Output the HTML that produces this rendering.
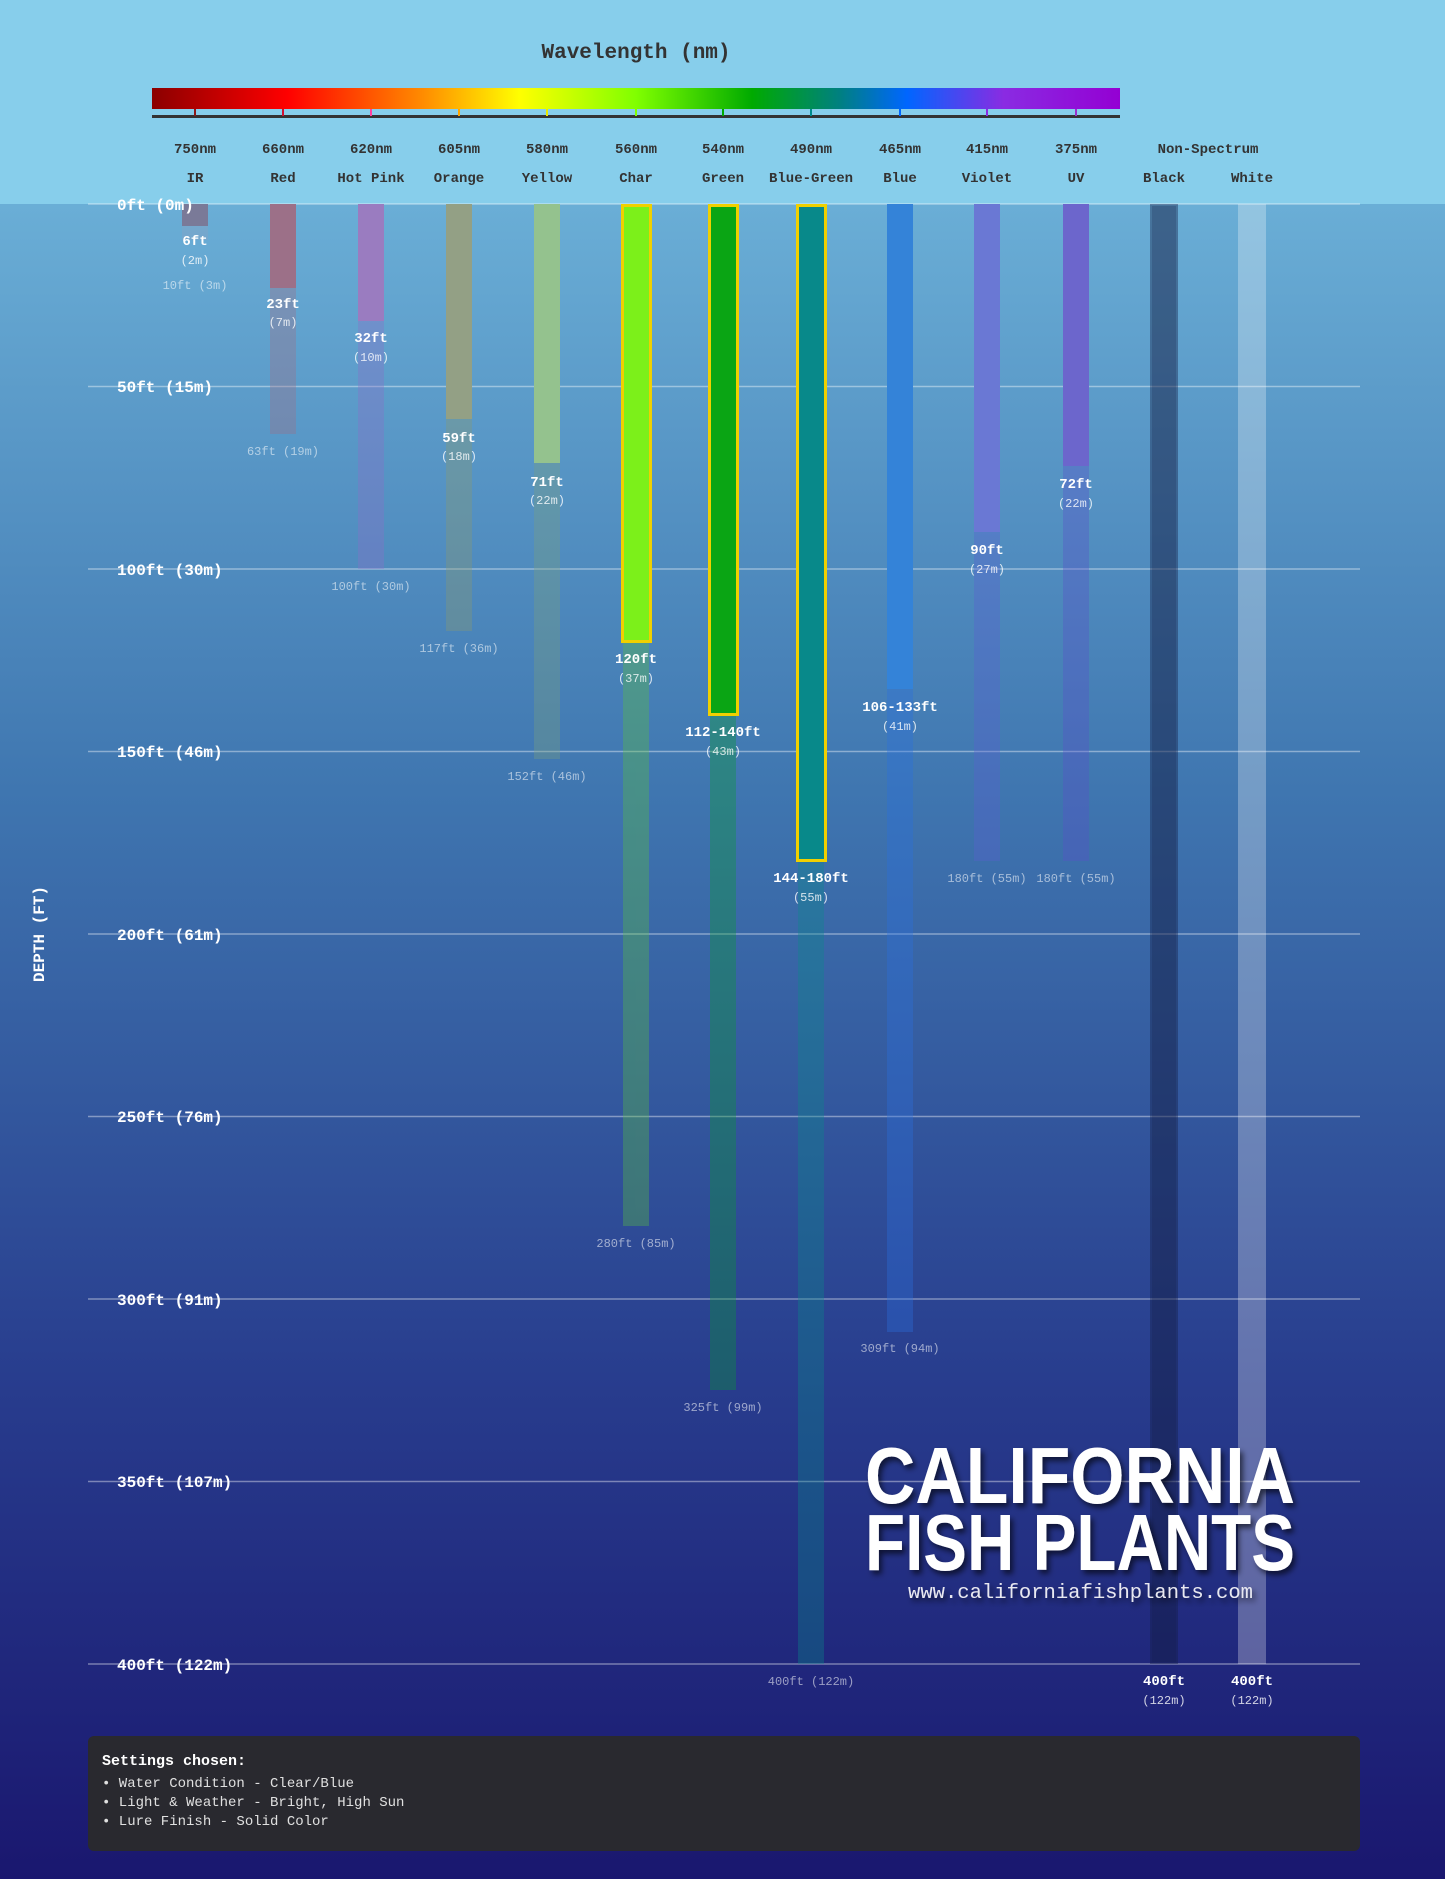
<!DOCTYPE html>
<html><head><meta charset="utf-8"><style>
html,body{margin:0;padding:0;}
body{width:1445px;height:1879px;overflow:hidden;}
svg{display:block;}
text{font-family:"Liberation Mono","DejaVu Sans Mono",monospace;}
</style></head><body>
<svg width="1445" height="1879" viewBox="0 0 1445 1879" xmlns="http://www.w3.org/2000/svg">
<defs>
<linearGradient id="water" x1="0" y1="0" x2="0" y2="1">
<stop offset="0" stop-color="#6aaed6"/>
<stop offset="0.35" stop-color="#3f76b0"/>
<stop offset="0.7" stop-color="#283d8e"/>
<stop offset="1" stop-color="#1a176f"/>
</linearGradient>
<linearGradient id="spec" x1="0" y1="0" x2="1" y2="0">
<stop offset="0" stop-color="#8b0000"/>
<stop offset="0.14" stop-color="#ff0000"/>
<stop offset="0.28" stop-color="#ff8c00"/>
<stop offset="0.38" stop-color="#ffff00"/>
<stop offset="0.5" stop-color="#80ff00"/>
<stop offset="0.62" stop-color="#00aa00"/>
<stop offset="0.71" stop-color="#008080"/>
<stop offset="0.78" stop-color="#0066ff"/>
<stop offset="0.88" stop-color="#8a2be2"/>
<stop offset="1" stop-color="#9400d3"/>
</linearGradient>
<filter id="sh" x="-10%" y="-20%" width="120%" height="150%"><feDropShadow dx="3" dy="4" stdDeviation="3" flood-color="#000" flood-opacity="0.6"/></filter>
</defs>
<rect x="0" y="0" width="1445" height="1879" fill="#87ceeb"/>
<rect x="0" y="204" width="1445" height="1675" fill="url(#water)"/>

<text x="636" y="58" text-anchor="middle" font-size="21" font-weight="bold" fill="#333">Wavelength (nm)</text>
<rect x="152" y="88" width="968" height="21" fill="url(#spec)"/>
<rect x="152" y="115" width="968" height="3" fill="#333"/>
<g stroke-width="2">
<line x1="195" y1="109" x2="195" y2="116" stroke="#8b1a1a"/>
<line x1="283" y1="109" x2="283" y2="116" stroke="#d01030"/>
<line x1="371" y1="109" x2="371" y2="116" stroke="#ff40a0"/>
<line x1="459" y1="109" x2="459" y2="116" stroke="#ffa500"/>
<line x1="547" y1="109" x2="547" y2="116" stroke="#e8e800"/>
<line x1="636" y1="109" x2="636" y2="116" stroke="#80ff00"/>
<line x1="723" y1="109" x2="723" y2="116" stroke="#00aa00"/>
<line x1="811" y1="109" x2="811" y2="116" stroke="#008b8b"/>
<line x1="900" y1="109" x2="900" y2="116" stroke="#0066ff"/>
<line x1="987" y1="109" x2="987" y2="116" stroke="#8a2be2"/>
<line x1="1076" y1="109" x2="1076" y2="116" stroke="#9932cc"/>
</g>
<g font-size="14" font-weight="bold" fill="#333" text-anchor="middle">
<text x="195" y="153">750nm</text><text x="283" y="153">660nm</text><text x="371" y="153">620nm</text><text x="459" y="153">605nm</text><text x="547" y="153">580nm</text><text x="636" y="153">560nm</text><text x="723" y="153">540nm</text><text x="811" y="153">490nm</text><text x="900" y="153">465nm</text><text x="987" y="153">415nm</text><text x="1076" y="153">375nm</text><text x="1208" y="153">Non-Spectrum</text>
<text x="195" y="182">IR</text><text x="283" y="182">Red</text><text x="371" y="182">Hot Pink</text><text x="459" y="182">Orange</text><text x="547" y="182">Yellow</text><text x="636" y="182">Char</text><text x="723" y="182">Green</text><text x="811" y="182">Blue-Green</text><text x="900" y="182">Blue</text><text x="987" y="182">Violet</text><text x="1076" y="182">UV</text><text x="1164" y="182">Black</text><text x="1252" y="182">White</text>
</g>

<g stroke="rgba(255,255,255,0.4)" stroke-width="1.5">
<line x1="88" y1="204" x2="1360" y2="204"/><line x1="88" y1="386.5" x2="1360" y2="386.5"/><line x1="88" y1="569" x2="1360" y2="569"/><line x1="88" y1="751.5" x2="1360" y2="751.5"/><line x1="88" y1="934" x2="1360" y2="934"/><line x1="88" y1="1116.5" x2="1360" y2="1116.5"/><line x1="88" y1="1299" x2="1360" y2="1299"/><line x1="88" y1="1481.5" x2="1360" y2="1481.5"/><line x1="88" y1="1664" x2="1360" y2="1664"/>
</g>

<g opacity="0.35">
<rect x="182" y="204" width="26" height="36" fill="#8fa0c0"/>
<rect x="270" y="204" width="26" height="230" fill="#9e7088"/>
<rect x="358" y="204" width="26" height="365" fill="#8a70c8"/>
<rect x="446" y="204" width="26" height="427" fill="#8a9a70"/>
<rect x="534" y="204" width="26" height="555" fill="#7aa080"/>
<rect x="623" y="204" width="26" height="1022" fill="#5ac040"/>
<rect x="710" y="204" width="26" height="1186" fill="#0a9a30"/>
<rect x="798" y="204" width="26" height="1460" fill="#0a8a8a"/>
<rect x="887" y="204" width="26" height="1128" fill="#2a70e0"/>
<rect x="974" y="204" width="26" height="657" fill="#5a60d0"/>
<rect x="1063" y="204" width="26" height="657" fill="#5a50c8"/>
</g>
<rect x="182" y="204" width="26" height="22" fill="#7a7a98"/>
<rect x="270" y="204" width="26" height="84" fill="#9c7088"/>
<rect x="358" y="204" width="26" height="117" fill="#9a7cc0"/>
<rect x="446" y="204" width="26" height="215" fill="#93a085"/>
<rect x="534" y="204" width="26" height="259" fill="#94c28e"/>
<rect x="622.5" y="205.5" width="28" height="436" fill="#7cf01a" stroke="#f0d000" stroke-width="3"/>
<rect x="709.5" y="205.5" width="28" height="509" fill="#0aa514" stroke="#f0d000" stroke-width="3"/>
<rect x="797.5" y="205.5" width="28" height="655" fill="#08898a" stroke="#f0d000" stroke-width="3"/>
<rect x="887" y="204" width="26" height="485" fill="#3483d8"/>
<rect x="974" y="204" width="26" height="328" fill="#6a78d4"/>
<rect x="1063" y="204" width="26" height="262" fill="#6c66cc"/>
<rect x="1150" y="204" width="28" height="1460" fill="rgba(20,30,70,0.4)"/>
<rect x="1152" y="206" width="24" height="1456" fill="rgba(20,30,70,0.2)"/>
<rect x="1238" y="204" width="28" height="1460" fill="rgba(255,255,255,0.28)"/>

<g font-size="16" font-weight="bold" fill="#fff">
<text x="117" y="210">0ft (0m)</text><text x="117" y="392">50ft (15m)</text><text x="117" y="575">100ft (30m)</text><text x="117" y="757">150ft (46m)</text><text x="117" y="940">200ft (61m)</text><text x="117" y="1122">250ft (76m)</text><text x="117" y="1305">300ft (91m)</text><text x="117" y="1487">350ft (107m)</text><text x="117" y="1670">400ft (122m)</text>
</g>
<text transform="translate(44,934) rotate(-90)" text-anchor="middle" font-size="16" font-weight="bold" fill="#fff">DEPTH (FT)</text>

<g text-anchor="middle" fill="#fff">
<g font-size="14" font-weight="bold">
<text x="195" y="245">6ft</text><text x="283" y="308">23ft</text><text x="371" y="342">32ft</text><text x="459" y="442">59ft</text><text x="547" y="486">71ft</text><text x="636" y="663">120ft</text><text x="723" y="736">112-140ft</text><text x="811" y="882">144-180ft</text><text x="900" y="711">106-133ft</text><text x="987" y="554">90ft</text><text x="1076" y="488">72ft</text><text x="1164" y="1685">400ft</text><text x="1252" y="1685">400ft</text>
</g>
<g font-size="12" fill="rgba(255,255,255,0.8)">
<text x="195" y="264">(2m)</text><text x="283" y="326">(7m)</text><text x="371" y="361">(10m)</text><text x="459" y="460">(18m)</text><text x="547" y="504">(22m)</text><text x="636" y="682">(37m)</text><text x="723" y="755">(43m)</text><text x="811" y="901">(55m)</text><text x="900" y="730">(41m)</text><text x="987" y="573">(27m)</text><text x="1076" y="507">(22m)</text><text x="1164" y="1704">(122m)</text><text x="1252" y="1704">(122m)</text>
</g>
<g font-size="12" fill="rgba(255,255,255,0.55)">
<text x="195" y="289">10ft (3m)</text><text x="283" y="455">63ft (19m)</text><text x="371" y="590">100ft (30m)</text><text x="459" y="652">117ft (36m)</text><text x="547" y="780">152ft (46m)</text><text x="636" y="1247">280ft (85m)</text><text x="723" y="1411">325ft (99m)</text><text x="811" y="1685">400ft (122m)</text><text x="900" y="1352">309ft (94m)</text><text x="987" y="882">180ft (55m)</text><text x="1076" y="882">180ft (55m)</text>
</g>
</g>

<g filter="url(#sh)" fill="#fff" font-weight="bold">
<text x="865" y="1503" font-size="80" textLength="430" lengthAdjust="spacingAndGlyphs" style="font-family:'Liberation Sans',sans-serif">CALIFORNIA</text>
<text x="865" y="1570" font-size="80" textLength="430" lengthAdjust="spacingAndGlyphs" style="font-family:'Liberation Sans',sans-serif">FISH PLANTS</text>
<text x="908" y="1598" font-size="20" font-weight="normal" fill="#e8e8f0" textLength="345" lengthAdjust="spacingAndGlyphs">www.californiafishplants.com</text>
</g>

<rect x="88" y="1736" width="1272" height="115" rx="6" fill="#29292f"/>
<text x="102" y="1765" font-size="15" font-weight="bold" fill="#fff">Settings chosen:</text>
<g font-size="14" fill="#e0e0e0">
<text x="102" y="1787">• Water Condition - Clear/Blue</text>
<text x="102" y="1806">• Light &amp; Weather - Bright, High Sun</text>
<text x="102" y="1825">• Lure Finish - Solid Color</text>
</g>
</svg>
</body></html>
